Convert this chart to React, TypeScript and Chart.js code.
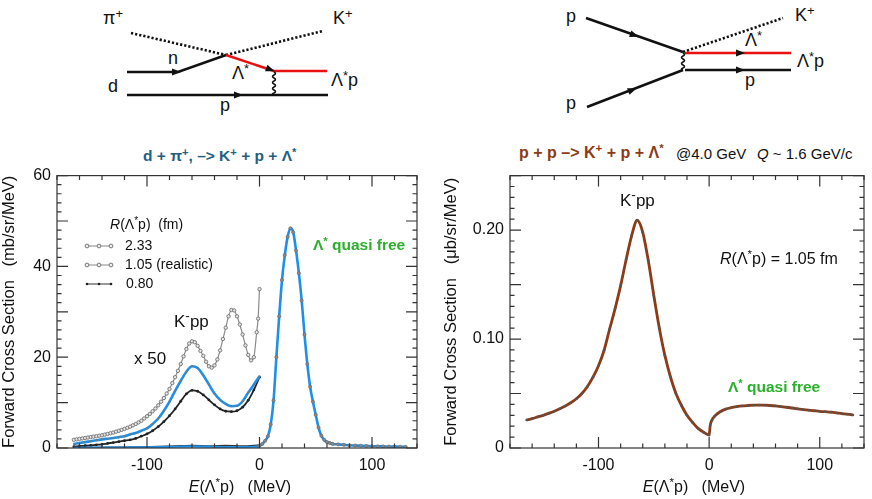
import React, { useEffect, useRef } from "react";
import Chart from "chart.js/auto";

const FONT = '"Liberation Sans", Arial, Helvetica, sans-serif';
const NARROW = '"Liberation Sans Narrow", "Liberation Sans", Arial, sans-serif';

// ---- left panel: d + pi+ -> K+ + p + Lambda*  (x50 curves below threshold)
const eLow = [-165, -160, -155, -150, -145, -140, -135, -130, -125, -120, -115, -110, -105, -100, -95, -90, -85, -80, -75, -70, -65, -60, -55, -50, -45, -40, -35, -30, -25, -20, -15, -10, -5, 0];
const v105 = [0.9, 1.1, 1.3, 1.5, 1.7, 1.9, 2.05, 2.2, 2.4, 2.6, 3.0, 3.3, 3.8, 4.3, 5.3, 6.5, 8.2, 10.2, 12.6, 14.8, 16.8, 18.0, 17.6, 16.0, 14.0, 12.0, 10.6, 9.7, 9.2, 9.3, 10.3, 12.2, 14.0, 15.8];
const v080 = [0.3, 0.4, 0.5, 0.6, 0.7, 0.8, 1.0, 1.2, 1.4, 1.6, 1.8, 2.1, 2.6, 3.1, 3.8, 4.7, 5.8, 7.1, 8.6, 10.3, 11.9, 12.7, 12.5, 11.7, 10.6, 9.5, 8.6, 8.1, 8.0, 8.2, 9.0, 10.5, 12.8, 15.6];

const e233 = [-165, -162.5, -160, -157.5, -155, -152.5, -150, -147.5, -145, -142.5, -140, -137.5, -135, -132.5, -130, -127.5, -125, -122.5, -120, -117.5, -115, -112.5, -110, -107.5, -105, -102.5, -100, -97.5, -95, -92.5, -90, -87.5, -85, -82.5, -80, -77.5, -75, -72.5, -70, -67.5, -65, -62.5, -60, -57.5, -55, -52.5, -50, -47.5, -45, -42.5, -40, -37.5, -35, -32.5, -30, -27.5, -25, -22.5, -20, -17.5, -15, -12.5, -10, -7.5, -5, -2.5, -1.25, 0];
const v233 = [1.8, 1.9, 2.0, 2.1, 2.2, 2.3, 2.4, 2.5, 2.6, 2.7, 2.8, 2.95, 3.1, 3.25, 3.4, 3.6, 3.8, 4.0, 4.2, 4.45, 4.7, 5.0, 5.3, 5.65, 6.0, 6.5, 7.0, 7.5, 8.1, 8.7, 9.4, 10.2, 11.0, 12.0, 13.0, 14.3, 15.6, 17.0, 18.5, 20.2, 21.8, 23.0, 23.5, 23.3, 22.5, 21.4, 20.3, 19.0, 18.0, 17.7, 18.2, 19.5, 21.5, 24.0, 26.5, 29.0, 30.4, 30.3, 29.0, 27.2, 25.0, 22.6, 20.5, 19.3, 20.0, 25.5, 28.5, 35];

// unscaled (x1) curves lying on the zero line
const eUn = [-165, -150, -135, -120, -105, -90, -75, -60, -45, -30, -15, 0];
const vUn105 = [0.05, 0.07, 0.09, 0.12, 0.15, 0.2, 0.28, 0.36, 0.3, 0.2, 0.22, 0.3];
const vUn233 = [0.1, 0.13, 0.16, 0.2, 0.26, 0.35, 0.48, 0.6, 0.45, 0.55, 0.45, 0.7];

// quasi-free Lambda* peak
const eQF = [0, 2.5, 5, 7.5, 10, 12.5, 15, 17.5, 20, 22.5, 25, 27.5, 30, 32.5, 35, 37.5, 40, 42.5, 45, 47.5, 50, 52.5, 55, 57.5, 60, 62.5, 65, 70, 75, 80, 85, 90, 95, 100, 105, 110, 115, 120, 125, 130];
const vQF = [0.5, 0.9, 1.6, 2.6, 5.2, 10.5, 20, 29, 37, 42.5, 46.5, 48.4, 47.5, 43.5, 38.5, 32.5, 25, 18.5, 13.5, 10.2, 7.3, 4.5, 2.7, 1.8, 1.3, 1.1, 0.9, 0.8, 0.7, 0.6, 0.55, 0.5, 0.45, 0.4, 0.38, 0.35, 0.32, 0.3, 0.28, 0.25];

// ---- right panel: p + p -> K+ + p + Lambda*
const eRight = [-165, -160, -155, -150, -145, -140, -135, -130, -125, -120, -115, -110, -105, -100, -95, -90, -85, -80, -75, -70, -65, -60, -55, -50, -45, -40, -35, -30, -25, -20, -15, -10, -5, 0, 1, 2.5, 5, 10, 15, 20, 25, 30, 35, 40, 45, 50, 55, 60, 65, 70, 75, 80, 85, 90, 95, 100, 105, 110, 115, 120, 125, 130];
const vRight = [0.0257, 0.027, 0.0285, 0.03, 0.0318, 0.0337, 0.036, 0.0385, 0.0415, 0.0452, 0.05, 0.0565, 0.065, 0.0755, 0.0895, 0.109, 0.128, 0.149, 0.173, 0.195, 0.209, 0.198, 0.172, 0.14, 0.11, 0.085, 0.0654, 0.05, 0.039, 0.03, 0.0235, 0.018, 0.0145, 0.0119, 0.021, 0.0255, 0.0292, 0.0333, 0.0357, 0.037, 0.0379, 0.0386, 0.039, 0.0393, 0.0394, 0.0393, 0.039, 0.0386, 0.038, 0.0374, 0.0367, 0.036, 0.0353, 0.0347, 0.0342, 0.0337, 0.0333, 0.0329, 0.0323, 0.0316, 0.031, 0.0303];

const BLUE = "#1f8fe8";
const BROWN = "#8c3b17";
const GREEN = "#2bb02b";

const pts = (xs: number[], ys: number[]) => xs.map((x, i) => ({ x, y: ys[i] }));
const isMult = (v: number, m: number) => Math.abs(v / m - Math.round(v / m)) < 1e-6;

// inward ticks on all four sides + frame
function frameTicks(xMajor: number, yMajor: number) {
  return {
    id: "frameTicks",
    afterDatasetsDraw(chart: any) {
      const { ctx, chartArea: a, scales } = chart;
      const x = scales.x;
      const y = scales.y;
      ctx.save();
      ctx.strokeStyle = "#333";
      ctx.lineWidth = 1.2;
      ctx.beginPath();
      x.ticks.forEach((t: any) => {
        const p = x.getPixelForValue(t.value);
        const len = isMult(t.value, xMajor) ? 11 : 4.5;
        ctx.moveTo(p, a.bottom);
        ctx.lineTo(p, a.bottom - len);
        ctx.moveTo(p, a.top);
        ctx.lineTo(p, a.top + len);
      });
      y.ticks.forEach((t: any) => {
        const p = y.getPixelForValue(t.value);
        const len = isMult(t.value, yMajor) ? 11 : 4.5;
        ctx.moveTo(a.left, p);
        ctx.lineTo(a.left + len, p);
        ctx.moveTo(a.right, p);
        ctx.lineTo(a.right - len, p);
      });
      ctx.stroke();
      ctx.strokeRect(a.left, a.top, a.right - a.left, a.bottom - a.top);
      ctx.restore();
    },
  };
}

interface PanelProps {
  left: number;
  width: number;
  datasets: any[];
  yMax: number;
  yStep: number;
  yMajor: number;
  yLabelEvery: number;
  yWidth: number;
  rightPad: number;
  yTitle: string;
  yTitlePad: number;
}

function Panel(p: PanelProps) {
  const ref = useRef<HTMLCanvasElement>(null);
  const inst = useRef<Chart | null>(null);

  useEffect(() => {
    if (inst.current) {
      inst.current.destroy();
      inst.current = null;
    }
    const ctx = ref.current && ref.current.getContext("2d");
    if (!ctx) return;
    const tickFont = { family: FONT, size: 16 };
    inst.current = new Chart(ctx, {
      type: "line",
      data: { datasets: p.datasets },
      options: {
        animation: false,
        responsive: false,
        maintainAspectRatio: false,
        layout: { padding: { top: 15, right: p.rightPad, left: 0, bottom: 0 } },
        plugins: { legend: { display: false }, tooltip: { enabled: false } },
        elements: { line: { cubicInterpolationMode: "monotone" } },
        scales: {
          x: {
            type: "linear",
            min: -180,
            max: 140,
            grid: { display: false, drawTicks: false },
            border: { display: false },
            ticks: {
              stepSize: 20,
              autoSkip: false,
              maxRotation: 0,
              padding: 8,
              color: "#111",
              font: tickFont,
              callback: (v: any) => (isMult(Number(v), 100) ? String(v) : ""),
            },
            afterFit: (s: any) => {
              s.height = 51;
            },
          },
          y: {
            type: "linear",
            min: 0,
            max: p.yMax,
            grid: { display: false, drawTicks: false },
            border: { display: false },
            ticks: {
              stepSize: p.yStep,
              autoSkip: false,
              padding: 6,
              color: "#111",
              font: tickFont,
              callback: (v: any) => {
                const n = Number(v);
                if (!isMult(n, p.yLabelEvery)) return "";
                if (Math.abs(n) < 1e-9) return "0";
                return p.yLabelEvery < 1 ? n.toFixed(2) : String(Math.round(n));
              },
            },
            title: {
              display: true,
              text: p.yTitle,
              color: "#111",
              font: { family: FONT, size: 16.5 },
              padding: { top: p.yTitlePad, bottom: 0 },
            },
            afterFit: (s: any) => {
              s.width = p.yWidth;
            },
          },
        },
      },
      plugins: [frameTicks(100, p.yMajor)],
    } as any);
    return () => {
      if (inst.current) {
        inst.current.destroy();
        inst.current = null;
      }
    };
  }, []);

  return (
    <canvas
      ref={ref}
      width={p.width}
      height={339}
      style={{ position: "absolute", left: p.left, top: 160, width: p.width, height: 339 }}
    />
  );
}

const sup: React.CSSProperties = { fontSize: "0.72em", position: "relative", top: "-0.5em" };
const Lam = () => (
  <>
    Λ<span style={sup}>*</span>
  </>
);
const Kpp = () => (
  <>
    K<span style={{ ...sup, fontSize: "0.8em" }}>-</span>pp
  </>
);

function T({ x, y, size, children, style, center }: any) {
  return (
    <div
      style={{
        position: "absolute",
        left: x,
        top: y - size * 0.55,
        fontSize: size,
        lineHeight: 1,
        whiteSpace: "nowrap",
        fontFamily: FONT,
        color: "#111",
        transform: center ? "translateX(-50%)" : undefined,
        ...style,
      }}
    >
      {children}
    </div>
  );
}

function wavy(x: number, y0: number, y1: number) {
  let d = `M ${x} ${y0}`;
  let y = y0;
  let s = 1;
  while (y < y1 - 0.1) {
    const step = Math.min(3, y1 - y);
    d += ` Q ${x + 3 * s} ${y + step / 2} ${x} ${y + step}`;
    y += step;
    s = -s;
  }
  return d;
}

function arrow(x: number, y: number, x2: number, y2: number, color = "#111") {
  const a = Math.atan2(y2 - y, x2 - x);
  const c = Math.cos(a);
  const s = Math.sin(a);
  const tip = [x + 5 * c, y + 5 * s];
  const b1 = [x - 4 * c - 3.5 * s, y - 4 * s + 3.5 * c];
  const b2 = [x - 4 * c + 3.5 * s, y - 4 * s - 3.5 * c];
  return <polygon points={`${tip[0]},${tip[1]} ${b1[0]},${b1[1]} ${b2[0]},${b2[1]}`} fill={color} />;
}

function Diagrams() {
  const k = { stroke: "#111", strokeWidth: 2.5, fill: "none" };
  const r = { stroke: "#e81010", strokeWidth: 2.5, fill: "none" };
  const dot = { stroke: "#111", strokeWidth: 2.6, strokeDasharray: "2.2 2", fill: "none" };
  const lab = { fontFamily: NARROW };
  return (
    <>
      <svg width={872} height={130} style={{ position: "absolute", left: 0, top: 0 }}>
        {/* left: d + pi+ */}
        <line x1={131} y1={33} x2={226} y2={55} {...dot} />
        <line x1={226} y1={55} x2={323} y2={31} {...dot} />
        <polyline points="127,72 178,72 226,55" {...k} />
        {arrow(176, 72, 200, 72)}
        <polyline points="226,55 274,71 327,71" {...r} />
        {arrow(270, 69.5, 274, 71)}
        <path d={wavy(274, 72, 95)} stroke="#111" strokeWidth={1.5} fill="none" />
        <line x1={127} y1={95} x2={328} y2={95} {...k} />
        {arrow(238, 95, 260, 95)}
        {/* right: p + p */}
        <line x1={586} y1={18} x2={683} y2={52} {...k} />
        {arrow(634, 35, 683, 52)}
        <line x1={683} y1={52} x2={783} y2={18} {...dot} />
        <line x1={685} y1={53} x2={791} y2={53} {...r} />
        {arrow(740, 53, 760, 53)}
        <path d={wavy(683, 53, 70)} stroke="#111" strokeWidth={1.5} fill="none" />
        <line x1={685} y1={70} x2={791} y2={70} {...k} />
        {arrow(740, 70, 760, 70)}
        <line x1={587} y1={107} x2={683} y2={70} {...k} />
        {arrow(632, 90, 683, 70)}
      </svg>
      <T x={103} y={19} size={18} style={lab}>
        π<span style={sup}>+</span>
      </T>
      <T x={333} y={19} size={18} style={lab}>
        K<span style={sup}>+</span>
      </T>
      <T x={168} y={59} size={18} style={lab}>n</T>
      <T x={108} y={87} size={18} style={lab}>d</T>
      <T x={232} y={74} size={18} style={lab}>
        <Lam />
      </T>
      <T x={220} y={106} size={18} style={lab}>p</T>
      <T x={331} y={81} size={18} style={lab}>
        <Lam />p
      </T>
      <T x={566} y={17} size={18} style={lab}>p</T>
      <T x={795} y={16} size={18} style={lab}>
        K<span style={sup}>+</span>
      </T>
      <T x={745} y={41} size={18} style={lab}>
        <Lam />
      </T>
      <T x={797} y={62} size={18} style={lab}>
        <Lam />p
      </T>
      <T x={745} y={81} size={18} style={lab}>p</T>
      <T x={566} y={104} size={18} style={lab}>p</T>
    </>
  );
}

export default function App() {
  const leftSets = [
    {
      label: "1.05 (realistic) x50",
      data: pts(eLow, v105),
      borderColor: BLUE,
      borderWidth: 2.6,
      pointRadius: 1,
      pointBackgroundColor: "#777",
      pointBorderWidth: 0,
      order: 0,
    },
    {
      label: "quasi free",
      data: pts(eQF, vQF),
      borderColor: BLUE,
      borderWidth: 2.6,
      pointRadius: 1.6,
      pointBackgroundColor: "#8a8a8a",
      pointBorderColor: "#666",
      pointBorderWidth: 0.6,
      order: 0,
    },
    {
      label: "1.05 x1",
      data: pts(eUn, vUn105),
      borderColor: BLUE,
      borderWidth: 2.2,
      pointRadius: 0,
      order: 1,
    },
    {
      label: "0.80 x50",
      data: pts(eLow, v080),
      borderColor: "#222",
      borderWidth: 1.8,
      pointRadius: 1.4,
      pointBackgroundColor: "#222",
      pointBorderWidth: 0,
      order: 2,
    },
    {
      label: "2.33 x50",
      data: pts(e233, v233),
      borderColor: "#8a8a8a",
      borderWidth: 1.2,
      pointRadius: 1.7,
      pointBackgroundColor: "#e6e6e6",
      pointBorderColor: "#707070",
      pointBorderWidth: 0.9,
      order: 3,
    },
    {
      label: "2.33 x1",
      data: pts(eUn, vUn233),
      borderColor: "#333",
      borderWidth: 1.3,
      pointRadius: 0,
      order: 4,
    },
  ];

  const rightSets = [
    {
      label: "R = 1.05 fm",
      data: pts(eRight, vRight),
      borderColor: BROWN,
      borderWidth: 2.8,
      pointRadius: 1.3,
      pointBackgroundColor: "#555",
      pointBorderWidth: 0,
    },
  ];

  const legendRow = (y: number, open: boolean) => (
    <g>
      <line x1={2} y1={y} x2={28} y2={y} stroke={open ? "#888" : "#333"} strokeWidth={1} />
      {[3, 15, 27].map((cx) => (
        <circle
          key={cx}
          cx={cx}
          cy={y}
          r={open ? 1.9 : 1.3}
          fill={open ? "#eee" : "#222"}
          stroke={open ? "#777" : "none"}
          strokeWidth={1}
        />
      ))}
    </g>
  );

  return (
    <div
      style={{
        position: "fixed",
        left: 0,
        top: 0,
        width: 872,
        height: 499,
        background: "#fff",
        overflow: "hidden",
        fontFamily: FONT,
      }}
    >
      <Diagrams />

      {/* panel titles */}
      <T x={143} y={157} size={15.5} style={{ fontFamily: NARROW, fontWeight: "bold", color: "#236080" }}>
        d + π<span style={sup}>+</span>, –&gt; K<span style={sup}>+</span> + p + <Lam />
      </T>
      <T x={519} y={154} size={16} style={{ fontFamily: NARROW, fontWeight: "bold", color: BROWN }}>
        p + p –&gt; K<span style={sup}>+</span> + p + <Lam />
      </T>
      <T x={676} y={154} size={15}>
        @4.0 GeV
      </T>
      <T x={757} y={154} size={15}>
        <i>Q</i> ~ 1.6 GeV/c
      </T>

      <Panel
        left={0}
        width={440}
        datasets={leftSets}
        yMax={60}
        yStep={2}
        yMajor={10}
        yLabelEvery={20}
        yWidth={57}
        rightPad={23}
        yTitle="Forward Cross Section   (mb/sr/MeV)"
        yTitlePad={0}
      />
      <Panel
        left={440}
        width={432}
        datasets={rightSets}
        yMax={0.25}
        yStep={0.01}
        yMajor={0.05}
        yLabelEvery={0.1}
        yWidth={70}
        rightPad={2}
        yTitle="Forward Cross Section   (μb/sr/MeV)"
        yTitlePad={2}
      />

      {/* left panel annotations */}
      <T x={110} y={225} size={14}>
        <i>R</i>(<Lam />p)&nbsp;&nbsp;(fm)
      </T>
      <svg width={34} height={56} style={{ position: "absolute", left: 84, top: 238 }}>
        {legendRow(8, true)}
        {legendRow(27, true)}
        {legendRow(46, false)}
      </svg>
      <T x={125} y={246} size={14}>2.33</T>
      <T x={125} y={265} size={14}>1.05 (realistic)</T>
      <T x={126} y={284} size={14}>0.80</T>
      <T x={174} y={322} size={17}>
        <Kpp />
      </T>
      <T x={134} y={359} size={17}>x 50</T>
      <T x={313} y={246} size={15.5} style={{ fontWeight: "bold", color: GREEN }}>
        <Lam /> quasi free
      </T>
      <T x={240} y={488} size={16} center>
        <i>E</i>(<Lam />p)&nbsp;&nbsp;&nbsp;(MeV)
      </T>

      {/* right panel annotations */}
      <T x={620} y={201} size={17}>
        <Kpp />
      </T>
      <T x={720} y={260} size={16}>
        <i>R</i>(<Lam />p) = 1.05 fm
      </T>
      <T x={728} y={388} size={15.5} style={{ fontWeight: "bold", color: GREEN }}>
        <Lam /> quasi free
      </T>
      <T x={694} y={488} size={16} center>
        <i>E</i>(<Lam />p)&nbsp;&nbsp;&nbsp;(MeV)
      </T>
    </div>
  );
}
